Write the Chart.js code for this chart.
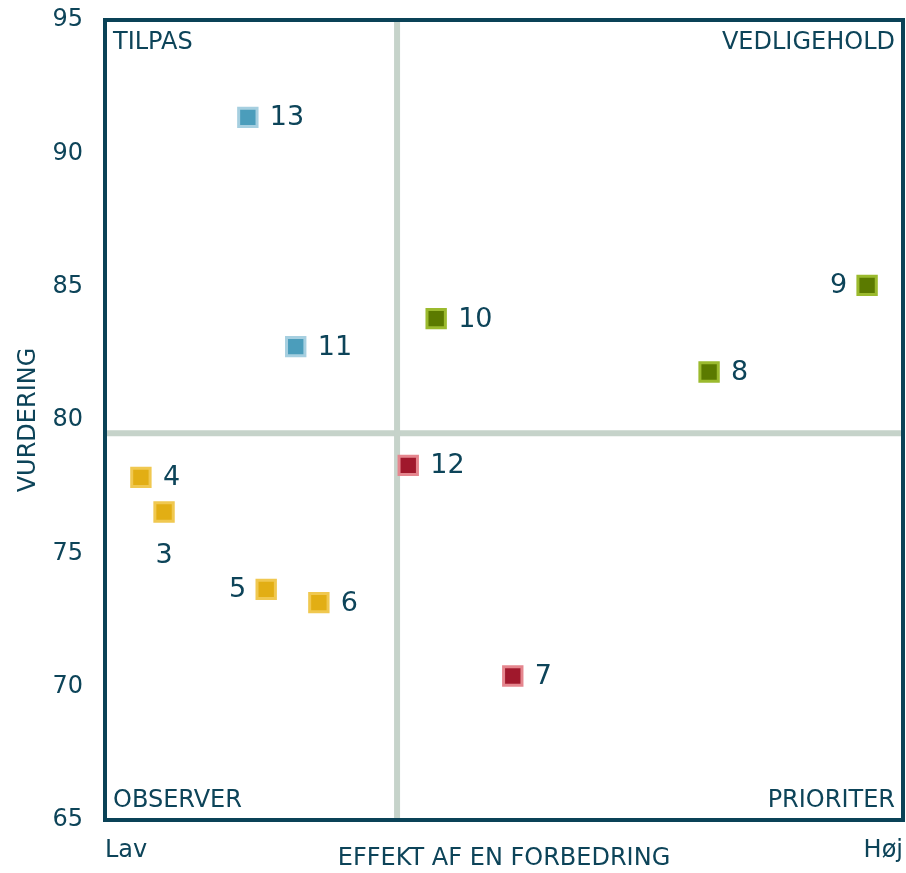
<!DOCTYPE html>
<html>
<head>
<meta charset="utf-8">
<script src="https://cdn.jsdelivr.net/npm/chart.js@4.4.0/dist/chart.umd.min.js"></script>
<style>
  html, body { margin: 0; padding: 0; background: #fff; overflow: hidden; }
  #wrap { width: 906px; height: 873px; position: relative; }
  canvas { display: block; }
</style>
</head>
<body>
<div id="wrap"><canvas id="matrix"></canvas></div>
<script>
// Items per quadrant: id, effect (0 = Lav, 100 = Høj), rating
const tilpasIds = ['13', '11'];
const tilpasX = [17.9, 23.9];
const tilpasY = [91.35, 82.75];

const vedligeholdIds = ['10', '9', '8'];
const vedligeholdX = [41.5, 95.5, 75.7];
const vedligeholdY = [83.8, 85.05, 81.8];

const prioriterIds = ['12', '7'];
const prioriterX = [38.0, 51.1];
const prioriterY = [78.3, 70.4];

const observerIds = ['4', '3', '5', '6'];
const observerX = [4.5, 7.4, 20.2, 26.8];
const observerY = [77.85, 76.55, 73.65, 73.15];

// quadrant split
const splitX = 36.6;
const splitY = 79.5;

const xMin = 0, xMax = 100;
const yMin = 65, yMax = 95, yStep = 5;
const xEnds = ['Lav', 'Høj'];
const quadrantNames = ['TILPAS', 'VEDLIGEHOLD', 'OBSERVER', 'PRIORITER'];

const FONT = '"DejaVu Sans", Verdana, sans-serif';
const INK = '#0d4459';
const FRAME = '#0a4257';

// label side for the few ids not labelled to the right
const labelSide = { '9': 'left', '5': 'left', '3': 'below' };

function pts(xs, ys, ids) {
    return xs.map((x, i) => ({ x: x, y: ys[i], id: ids[i] }));
}

function group(xs, ys, ids, fill, edge) {
    return {
        type: 'scatter',
        data: pts(xs, ys, ids),
        pointStyle: 'rect',
        pointRadius: 13,
        pointHoverRadius: 13,
        borderWidth: 3,
        backgroundColor: fill,
        borderColor: edge,
        order: 1
    };
}

const crossLine = (data) => ({
    type: 'line',
    data: data,
    borderColor: '#c6d3ca',
    borderWidth: 6,
    pointRadius: 0,
    fill: false,
    order: 5
});

const matrixDecor = {
    id: 'matrixDecor',
    afterDatasetsDraw(chart) {
        const ctx = chart.ctx;
        const a = chart.chartArea;
        const sx = chart.scales.x;
        ctx.save();
        // point labels
        ctx.fillStyle = INK;
        ctx.font = '27px ' + FONT;
        ctx.textBaseline = 'middle';
        chart.data.datasets.forEach((ds, di) => {
            if (ds.type !== 'scatter') return;
            chart.getDatasetMeta(di).data.forEach((el, i) => {
                const id = ds.data[i].id;
                const side = labelSide[id] || 'right';
                if (side === 'left') {
                    ctx.textAlign = 'right';
                    ctx.fillText(id, el.x - 20, el.y + 1);
                } else if (side === 'below') {
                    ctx.textAlign = 'center';
                    ctx.fillText(id, el.x, el.y + 44);
                } else {
                    ctx.textAlign = 'left';
                    ctx.fillText(id, el.x + 22, el.y + 1);
                }
            });
        });
        // quadrant names
        ctx.font = '24px ' + FONT;
        ctx.textAlign = 'left';
        ctx.fillText(quadrantNames[0], a.left + 8, a.top + 23);
        ctx.fillText(quadrantNames[2], a.left + 8, a.bottom - 19);
        ctx.textAlign = 'right';
        ctx.fillText(quadrantNames[1], a.right - 8, a.top + 23);
        ctx.fillText(quadrantNames[3], a.right - 8, a.bottom - 19);
        // Lav / Høj at the ends of the effect axis
        ctx.textAlign = 'left';
        ctx.fillText(xEnds[0], sx.getPixelForValue(xMin), 851);
        ctx.textAlign = 'right';
        ctx.fillText(xEnds[1], sx.getPixelForValue(xMax), 851);
        // frame
        ctx.strokeStyle = FRAME;
        ctx.lineWidth = 4;
        ctx.strokeRect(a.left, a.top, a.right - a.left, a.bottom - a.top);
        ctx.restore();
    }
};

new Chart(document.getElementById('matrix'), {
    data: {
        datasets: [
            crossLine([{ x: splitX, y: yMin }, { x: splitX, y: yMax }]),
            crossLine([{ x: xMin, y: splitY }, { x: xMax, y: splitY }]),
            group(tilpasX, tilpasY, tilpasIds, '#4b9dbb', '#a6cfe0'),
            group(vedligeholdX, vedligeholdY, vedligeholdIds, '#5b7a00', '#9bba2e'),
            group(prioriterX, prioriterY, prioriterIds, '#a0182c', '#e5868e'),
            group(observerX, observerY, observerIds, '#e2ae14', '#f0c850')
        ]
    },
    options: {
        responsive: true,
        maintainAspectRatio: false,
        animation: false,
        layout: { autoPadding: false, padding: { top: 20, right: 3, left: 0, bottom: 0 } },
        plugins: {
            legend: { display: false },
            tooltip: { enabled: false }
        },
        scales: {
            x: {
                type: 'linear',
                min: xMin,
                max: xMax,
                grid: { display: false, drawTicks: false },
                border: { display: false },
                ticks: { display: false },
                title: {
                    display: true,
                    text: 'EFFEKT AF EN FORBEDRING',
                    color: INK,
                    font: { family: FONT, size: 24 },
                    padding: { top: 0, bottom: 0 }
                },
                afterFit: (s) => { s.height = 53; }
            },
            y: {
                min: yMin,
                max: yMax,
                grid: { display: false, drawTicks: false },
                border: { display: false },
                ticks: {
                    stepSize: yStep,
                    padding: 22,
                    color: INK,
                    font: { family: FONT, size: 24 }
                },
                title: {
                    display: true,
                    text: 'VURDERING',
                    color: INK,
                    font: { family: FONT, size: 24 },
                    padding: { top: 14, bottom: 0 }
                },
                afterFit: (s) => { s.width = 105; s.paddingTop = 0; s.paddingBottom = 0; }
            }
        }
    },
    plugins: [matrixDecor]
});
</script>
</body>
</html>
